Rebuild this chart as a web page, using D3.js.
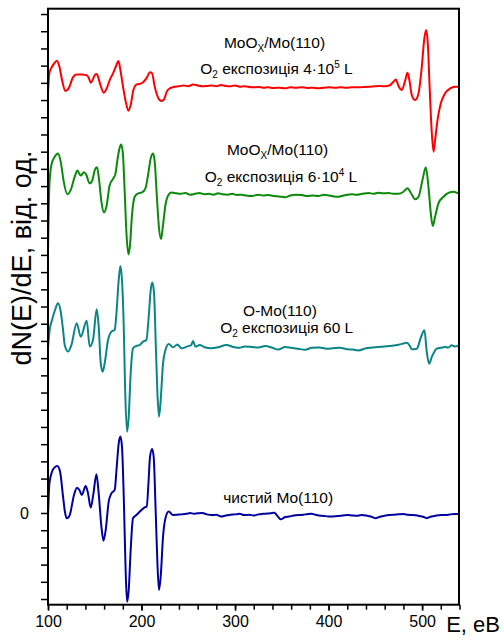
<!DOCTYPE html>
<html><head><meta charset="utf-8">
<script src="https://cdn.jsdelivr.net/npm/d3@7"></script>
<style>
html,body{margin:0;padding:0;background:#fff;}
svg{display:block;font-family:"Liberation Sans",Arial,sans-serif;}
</style></head>
<body>
<svg id="chart" width="504" height="644"></svg>
<script>
// ---- data (E in eV, dN/dE in arbitrary units, offset curves) ----
const xTicksMajor = [100, 200, 300, 400, 500];
const yTickLabels = ["0"];

const cleanMo = [[100,-0.25],[101.5,1.72],[104.3,2.40],[107,2.65],[110,2.73],[112.9,2.40],[116.1,0.95],[118,0.1],[120,-0.31],[123.2,-0.12],[127.8,1.05],[131,1.47],[133.6,1.34],[136.1,1.05],[140.3,1.57],[142.8,1.14],[145.7,0.31],[148.6,1.14],[151.8,2.25],[154.2,1.14],[157.1,-0.80],[159.3,-1.61],[161.7,-0.99],[164.9,0.66],[167.8,1.14],[171.3,1.34],[173.5,2.69],[175.6,4.05],[177.4,4.44],[179.1,3.86],[181,0.95],[182.8,-2.92],[184.5,-5.16],[186.3,-4.48],[188.4,-2.15],[190.9,-0.31],[194.5,-0.12],[199.9,0.17],[203.4,0.33],[205.6,0.37],[207.4,1.72],[209.1,3.27],[211.3,3.72],[213,3.27],[215.2,-0.02],[217,-2.92],[218.7,-4.48],[220.5,-3.70],[223,-1.38],[225.6,-0.31],[229.1,0.08],[233.7,-0.12],[238,-0.1],[243,-0.08],[248,-0.05],[252,0.0],[256,-0.05],[260,-0.02],[265,0.0],[270,-0.08],[275,-0.12],[280,-0.1],[285,-0.2],[290,-0.15],[295,-0.1],[300,-0.08],[305,-0.05],[310,-0.12],[315,-0.1],[320,-0.15],[325,-0.08],[330,-0.05],[335,-0.03],[340,0.0],[342,0.02],[345,-0.15],[349,-0.37],[353,-0.25],[358,-0.2],[363,-0.15],[368,-0.12],[373,-0.1],[378,-0.06],[382,-0.05],[386,-0.1],[390,-0.14],[395,-0.17],[400,-0.2],[405,-0.2],[410,-0.18],[415,-0.14],[420,-0.12],[425,-0.14],[430,-0.16],[435,-0.12],[440,-0.14],[445,-0.2],[450,-0.3],[455,-0.22],[460,-0.16],[465,-0.12],[470,-0.1],[475,-0.08],[480,-0.06],[485,-0.1],[490,-0.12],[495,-0.15],[500,-0.2],[505,-0.3],[510,-0.2],[515,-0.15],[520,-0.12],[525,-0.12],[530,-0.08],[535,-0.06],[540,-0.06]];

const oMo60L = [[100,9.57],[101.8,10.64],[104.3,11.22],[107.5,11.8],[110.7,12.19],[113.3,11.80],[116.1,10.64],[117.9,9.76],[121.4,9.38],[125,9.76],[130.7,11.03],[135,10.25],[141.4,11.18],[144.6,9.67],[148.1,10.05],[152.1,11.84],[154.2,10.83],[156.4,8.70],[158.5,8.21],[160.6,8.70],[164.2,10.05],[167.8,10.54],[171.3,10.64],[173.2,11.61],[175.6,13.54],[177.4,14.36],[179.1,13.54],[181,10.83],[182.4,7.34],[184.5,4.73],[186.3,5.60],[188.4,8.12],[190.9,9.57],[194.5,9.71],[198.1,9.76],[201.6,9.96],[205.2,10.05],[207.7,11.41],[209.8,12.96],[211.6,13.39],[213.4,12.77],[215.2,9.86],[217,6.96],[218.7,5.60],[220.5,6.57],[223,8.70],[225.6,9.47],[229.1,9.82],[233.7,9.63],[238.4,9.8],[242.7,9.57],[249.9,9.7],[253,9.75],[255.1,10.0],[257.6,9.67],[262.2,9.76],[267.6,9.63],[274.7,9.57],[281.8,9.63],[290.7,9.76],[299.6,9.63],[305,9.6],[310,9.68],[318,9.65],[325,9.62],[332,9.7],[340,9.6],[346,9.5],[353.5,9.65],[360,9.6],[367,9.55],[375,9.49],[382,9.6],[390,9.62],[398,9.55],[405,9.58],[412,9.6],[420,9.52],[426,9.5],[432,9.45],[440,9.58],[447,9.62],[453,9.65],[460,9.68],[468,9.72],[474.8,9.78],[480,9.85],[483.6,9.9],[487,9.7],[489,9.51],[494.3,9.55],[498.9,10.23],[502.5,10.62],[505,9.36],[507.5,8.68],[510.4,9.07],[515.7,9.55],[520,9.6],[524.6,9.65],[528,9.62],[531.7,9.75],[535,9.68],[538.8,9.7]];

const moOx6e4 = [[100,15.09],[101.5,19.06],[103.6,20.23],[107.2,20.71],[110.7,20.90],[113.6,20.42],[116.8,19.26],[120.7,18.52],[124.3,18.78],[128.6,19.55],[131.4,19.90],[135,19.61],[138.5,19.81],[140.7,19.68],[144.6,19.16],[147.5,19.35],[150,19.93],[152.4,20.09],[154.5,19.42],[157.1,18.09],[159.9,17.47],[162.4,17.80],[166,19.06],[169.5,19.42],[172.1,19.71],[174.2,20.51],[176.4,21.19],[178.1,21.42],[179.9,21.0],[182,18.67],[183.8,16.35],[186,15.03],[187.7,15.57],[189.8,17.32],[192.7,18.38],[196.3,18.58],[200.5,18.63],[204.2,18.87],[207,19.65],[209.8,20.61],[212.3,20.9],[214.1,20.42],[216.3,18.48],[218.7,16.55],[220.9,15.92],[223,16.74],[225.6,17.9],[228.3,18.44],[232,18.63],[237.3,18.58],[242,18.55],[247,18.6],[252,18.5],[257,18.55],[262,18.6],[267,18.52],[272,18.55],[277,18.5],[282,18.58],[287,18.52],[292,18.5],[297,18.55],[302,18.48],[307,18.5],[312,18.45],[318,18.42],[325,18.5],[330,18.45],[335.7,18.48],[341,18.42],[347,18.4],[353.5,18.35],[359,18.45],[365,18.5],[371.3,18.48],[377,18.42],[383,18.45],[389.2,18.42],[395,18.5],[401,18.45],[406,18.4],[410.6,18.38],[416,18.45],[420,18.5],[424.8,18.53],[430,18.5],[436,18.55],[442.7,18.6],[448,18.55],[453,18.62],[458,18.58],[464,18.6],[469,18.55],[474.8,18.55],[480.1,18.67],[484.4,18.87],[488.3,18.57],[492.6,18.23],[496.2,18.38],[500.4,19.35],[504,20.09],[506.8,18.96],[509.3,17.42],[511.4,16.68],[513.9,17.22],[517.5,18.0],[522.9,18.38],[528.2,18.6],[533.6,18.67],[538.9,18.57]];

const moOx4e5 = [[100,24.39],[101.5,25.55],[104.3,25.94],[107.2,26.17],[109.6,26.29],[112.2,25.94],[115,25.17],[118.6,24.53],[122.1,24.68],[126.7,25.32],[130.4,25.49],[135.7,25.49],[141,25.45],[143.5,25.3],[145.7,25.01],[148,25.2],[150,25.45],[152.1,25.51],[155.6,24.96],[159.6,24.43],[162.8,24.68],[166.3,25.2],[169.5,25.55],[173.2,26.04],[175.3,26.27],[177.4,25.75],[180.2,24.78],[183.1,23.91],[186,23.38],[188.4,23.71],[191.3,24.58],[194.9,24.91],[199.9,24.97],[205.2,25.26],[209.1,25.61],[211.3,25.55],[214.1,24.78],[217.6,24.16],[221.3,23.94],[224.1,24.04],[227,24.49],[230.2,24.68],[235.5,24.78],[240,24.8],[245,24.85],[250,24.8],[255,24.9],[260,24.85],[265,24.8],[270,24.82],[275,24.85],[280,24.8],[285,24.88],[290,24.82],[295,24.8],[300,24.85],[305,24.78],[310,24.8],[318,24.74],[325,24.76],[330,24.72],[335.7,24.74],[341,24.7],[347,24.72],[353.5,24.68],[359,24.74],[365,24.72],[371,24.75],[377,24.7],[383,24.72],[389.2,24.68],[395,24.72],[401,24.74],[407,24.72],[413,24.75],[419,24.72],[425,24.74],[432,24.74],[438,24.76],[444,24.78],[449,24.8],[453.4,24.82],[460,24.8],[465.8,24.87],[469.4,25.07],[471.9,25.2],[474.8,24.82],[478.3,24.58],[481.9,25.14],[484.4,25.59],[486.5,25.14],[489,24.29],[492.6,24.0],[496.2,24.39],[499.7,25.94],[502.2,27.49],[504.3,28.07],[506.1,27.3],[507.9,24.97],[510,22.45],[512.2,21.0],[513.9,21.68],[516.5,22.84],[520,23.81],[524.6,24.39],[530,24.68],[535.3,24.78],[538.9,24.78]];

const seriesNames = ["чистий Mo(110)", "O-Mo(110)", "MoOx 6e4 L", "MoOx 4e5 L"];
const seriesData = [cleanMo, oMo60L, moOx6e4, moOx4e5];
const seriesColors = ["#0000a0", "#0a8585", "#0a8a0a", "#ff0000"];

// ---- layout ----
const svg = d3.select("#chart");
const L = 48, R = 459, T = 8.7, B = 604.7;
const x = d3.scaleLinear().domain([100, 540]).range([L, R + 0.5]);
const y = d3.scaleLinear().domain([-5.33, 29.31]).range([B, T]);
const font = '"Liberation Sans",Arial,sans-serif';

svg.append("defs").append("clipPath").attr("id","clip")
  .append("rect").attr("x", L).attr("y", T).attr("width", R - L).attr("height", B - T);

const line = d3.line().x(d => x(d[0])).y(d => y(d[1])).curve(d3.curveMonotoneX);
const g = svg.append("g").attr("clip-path", "url(#clip)");
seriesData.forEach((s, i) => {
  g.append("path").datum(s).attr("d", line)
    .attr("fill", "none").attr("stroke", seriesColors[i])
    .attr("stroke-width", 2).attr("stroke-linejoin", "round");
});

// frame
svg.append("rect").attr("x", L).attr("y", T).attr("width", R - L).attr("height", B - T)
  .attr("fill", "none").attr("stroke", "#000").attr("stroke-width", 2);

// x axis
const xMinor = d3.range(100, 541, 20);
const xa = svg.append("g").attr("transform", `translate(0,${B})`)
  .call(d3.axisBottom(x).tickValues(xMinor).tickSize(5).tickFormat(""));
xa.select(".domain").remove();
xa.selectAll("line").attr("stroke", "#000").attr("stroke-width", 1.5);
const xb = svg.append("g").attr("transform", `translate(0,${B})`)
  .call(d3.axisBottom(x).tickValues(xTicksMajor).tickSize(6).tickPadding(5).tickFormat(d3.format("d")));
xb.select(".domain").remove();
xb.selectAll("line").attr("stroke", "#000").attr("stroke-width", 1.5);
xb.selectAll("text").attr("font-family", font).attr("font-size", 16).attr("fill", "#000");

// y axis
const yTicks = d3.range(-5, 30, 1);
const ya = svg.append("g").attr("transform", `translate(${L},0)`)
  .call(d3.axisLeft(y).tickValues(yTicks).tickSize(7).tickPadding(12)
    .tickFormat(d => d === 0 ? yTickLabels[0] : ""));
ya.select(".domain").remove();
ya.selectAll("line").attr("stroke", "#000").attr("stroke-width", 1.5);
ya.selectAll("text").attr("font-family", font).attr("font-size", 16).attr("fill", "#000");

// axis titles
svg.append("text").attr("x", 500).attr("y", 632).attr("text-anchor", "end")
  .attr("font-family", font).attr("font-size", 22).text("E, eB");
svg.append("text").attr("transform", "translate(31,258) rotate(-90)").attr("text-anchor", "middle")
  .attr("font-family", font).attr("font-size", 27).text("dN(E)/dE, від. од.");

// curve labels
function label(cx, by, parts) {
  const t = svg.append("text").attr("x", cx).attr("y", by).attr("text-anchor", "middle")
    .attr("font-family", font).attr("font-size", 15.5).attr("fill", "#000");
  let shift = 0;
  parts.forEach(p => {
    const [txt, kind] = p;
    const target = kind === "sub" ? 4 : kind === "sup" ? -6 : 0;
    const ts = t.append("tspan").attr("dy", target - shift).text(txt);
    if (kind) ts.attr("font-size", 10);
    shift = target;
  });
}
label(274.5, 47.7, [["MoO"], ["X", "sub"], ["/Mo(110)"]]);
label(276.5, 74, [["O"], ["2", "sub"], [" експозиція 4·10"], ["5", "sup"], [" L"]]);
label(277.5, 155, [["MoO"], ["X", "sub"], ["/Mo(110)"]]);
label(281, 181.7, [["O"], ["2", "sub"], [" експозиція 6·10"], ["4", "sup"], [" L"]]);
label(280, 315.7, [["O-Mo(110)"]]);
label(286.7, 333.3, [["O"], ["2", "sub"], [" експозиція 60 L"]]);
label(278.2, 503.3, [["чистий Mo(110)"]]);
</script>
</body></html>
